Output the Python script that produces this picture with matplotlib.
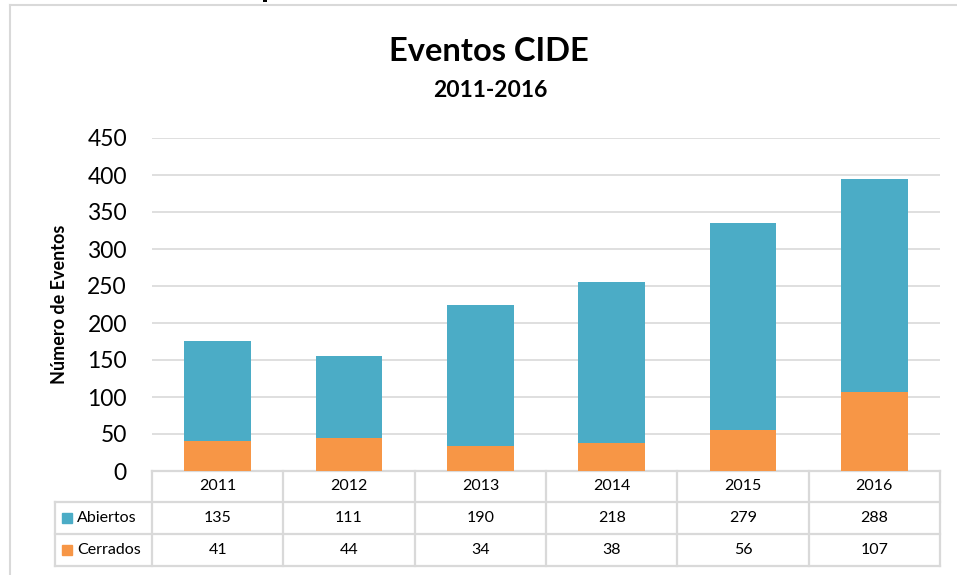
import matplotlib
matplotlib.use("Agg")
import matplotlib.pyplot as plt
from matplotlib.lines import Line2D
import matplotlib.transforms as mtransforms
import numpy as np

plt.rcParams["font.family"] = ["Lato", "DejaVu Sans"]

# data
years = ["2011", "2012", "2013", "2014", "2015", "2016"]
abiertos = [135, 111, 190, 218, 279, 288]
cerrados = [41, 44, 34, 38, 56, 107]
series_names = ["Abiertos", "Cerrados"]
yticks = [0, 50, 100, 150, 200, 250, 300, 350, 400, 450]

c_abiertos = "#4BACC6"
c_cerrados = "#F79646"
grid_c = "#D9D9D9"

W, H = 957, 575
fig = plt.figure(figsize=(W / 100, H / 100), dpi=100)

# plot area in pixels: x 152..940, y 138..471
ax = fig.add_axes([152 / W, (H - 471) / H, (940 - 152) / W, (471 - 138) / H])

x = np.arange(len(years))
ax.bar(x, cerrados, width=0.51, color=c_cerrados, zorder=3)
ax.bar(x, abiertos, width=0.51, bottom=cerrados, color=c_abiertos, zorder=3)

ax.set_xlim(-0.5, len(years) - 0.5)
ax.set_ylim(0, 450)
ax.set_yticks(yticks)
ax.set_yticklabels([str(v) for v in yticks], fontsize=16.5)
ax.set_xticks([])
ax.tick_params(axis="y", length=0, pad=18)
for s in ax.spines.values():
    s.set_visible(False)
ax.yaxis.grid(True, color=grid_c, linewidth=1.2, zorder=0)
ax.set_axisbelow(True)

ax.set_ylabel("Número de Eventos", fontsize=13, fontweight="bold", labelpad=14)

# data table under the plot (x in data units, y in axes fraction)
tr = mtransforms.blended_transform_factory(ax.transData, ax.transAxes)
ph = 471 - 138
rows_y = [0, -31 / ph, -63 / ph, -95 / ph]
left_lbl = -0.5 + (55 - 152) / 131.33
xr = len(years) - 0.5
lw = 1.6

ax.plot([-0.5, xr], [rows_y[0]] * 2, color=grid_c, lw=lw, transform=tr, clip_on=False)
for ry in rows_y[1:]:
    ax.plot([left_lbl, xr], [ry] * 2, color=grid_c, lw=lw, transform=tr, clip_on=False)
for i in range(len(years) + 1):
    ax.plot([i - 0.5] * 2, [rows_y[0], rows_y[3]], color=grid_c, lw=lw, transform=tr, clip_on=False)
ax.plot([left_lbl] * 2, [rows_y[1], rows_y[3]], color=grid_c, lw=lw, transform=tr, clip_on=False)

def mid(r):
    return (rows_y[r] + rows_y[r + 1]) / 2

for i, yr in enumerate(years):
    ax.text(i, mid(0), yr, transform=tr, ha="center", va="center", fontsize=11.5)
    ax.text(i, mid(1), str(abiertos[i]), transform=tr, ha="center", va="center", fontsize=11.5)
    ax.text(i, mid(2), str(cerrados[i]), transform=tr, ha="center", va="center", fontsize=11.5)

sq_x = -0.5 + (67 - 152) / 131.33
txt_x = -0.5 + (77 - 152) / 131.33
for r, (name, col) in enumerate(zip(series_names, [c_abiertos, c_cerrados])):
    ax.plot([sq_x], [mid(r + 1)], marker="s", markersize=7.2, color=col,
            linestyle="none", transform=tr, clip_on=False)
    ax.text(txt_x, mid(r + 1), name, transform=tr, ha="left", va="center", fontsize=11.5)

# titles
fig.text(489 / W, 1 - 61 / H, "Eventos CIDE", ha="center", va="baseline",
         fontsize=23.5, fontweight="bold")
fig.text(490 / W, 1 - 97 / H, "2011-2016", ha="center", va="baseline",
         fontsize=16.5, fontweight="bold")

# chart frame and cut-off text from the page above
fig.add_artist(Line2D([10 / W, 10 / W], [0, 1 - 5 / H], color=grid_c, lw=1.5))
fig.add_artist(Line2D([10 / W, 1], [1 - 5 / H, 1 - 5 / H], color=grid_c, lw=1.5))
fig.text(261 / W, 1 + 2.5 / H, "p", ha="left", va="baseline", fontsize=23, fontweight="bold")

fig.savefig("out.png", dpi=100)
